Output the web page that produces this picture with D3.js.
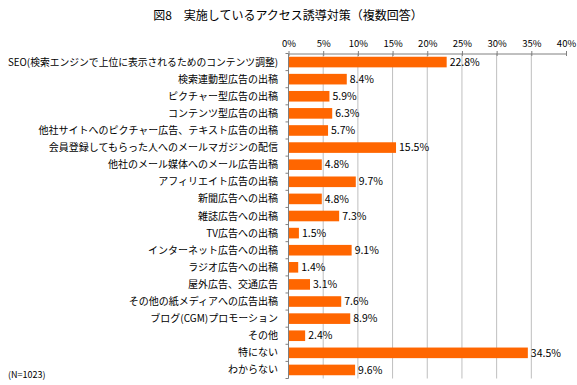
<!DOCTYPE html>
<html><head><meta charset="utf-8">
<script src="https://cdn.jsdelivr.net/npm/d3@7"></script>
<style>
body{margin:0;background:#fff;}
svg text{font-family:"Noto Sans CJK JP","Noto Sans",sans-serif;fill:#000;}
</style></head>
<body><svg id="c" width="577" height="385"></svg>
<script>
const title = "図8　実施しているアクセス誘導対策（複数回答）";
const categories = [
 "SEO(検索エンジンで上位に表示されるためのコンテンツ調整)",
 "検索連動型広告の出稿",
 "ピクチャー型広告の出稿",
 "コンテンツ型広告の出稿",
 "他社サイトへのピクチャー広告、テキスト広告の出稿",
 "会員登録してもらった人へのメールマガジンの配信",
 "他社のメール媒体へのメール広告出稿",
 "アフィリエイト広告の出稿",
 "新聞広告への出稿",
 "雑誌広告への出稿",
 "TV広告への出稿",
 "インターネット広告への出稿",
 "ラジオ広告への出稿",
 "屋外広告、交通広告",
 "その他の紙メディアへの広告出稿",
 "ブログ(CGM)プロモーション",
 "その他",
 "特にない",
 "わからない"
];
const values = [22.8,8.4,5.9,6.3,5.7,15.5,4.8,9.7,4.8,7.3,1.5,9.1,1.4,3.1,7.6,8.9,2.4,34.5,9.6];
const tickValues = [0,5,10,15,20,25,30,35,40];
const note = "(N=1023)";

const svg = d3.select("#c");
const x = d3.scaleLinear().domain([0,40]).range([288.5,566]);
const y = d3.scaleBand().domain(categories).range([53.5,378.5]).paddingInner(0.38).paddingOuter(0.19);

svg.append("text").attr("x",288).attr("y",20).attr("text-anchor","middle")
  .style("font-size","12px").text(title);

// gridlines
svg.append("g").selectAll("line").data(tickValues.slice(1,-1)).join("line")
  .attr("x1",d=>x(d)).attr("x2",d=>x(d)).attr("y1",53.5).attr("y2",378.5)
  .attr("stroke","#bfbfbf").attr("stroke-width",1);

// top axis
const gx = svg.append("g").attr("transform","translate(0,53.5)")
  .call(d3.axisTop(x).tickValues(tickValues).tickFormat(d=>d+"%").tickSize(0).tickPadding(7));
gx.select(".domain").attr("stroke","#808080");
gx.selectAll(".tick line").remove();
gx.selectAll(".tick").append("line").attr("y1",-2.5).attr("y2",2.5).attr("stroke","#808080");
gx.selectAll("text").style("font-size","9.5px").attr("font-family","Liberation Sans Narrow, Arial Narrow, Liberation Sans, sans-serif");

// bars
svg.append("g").selectAll("rect").data(values).join("rect")
  .attr("x",x(0)).attr("y",(d,i)=>y(categories[i]))
  .attr("width",d=>x(d)-x(0)).attr("height",y.bandwidth())
  .attr("fill","#ff6600");

// value labels
svg.append("g").selectAll("text").data(values).join("text")
  .attr("x",d=>x(d)+3).attr("y",(d,i)=>y(categories[i])+y.bandwidth()/2)
  .attr("dy","0.35em").style("font-size","10.5px")
  .attr("font-family","Liberation Sans Narrow, Arial Narrow, Liberation Sans, sans-serif")
  .text(d=>d.toFixed(1)+"%");

// left axis
svg.append("line").attr("x1",x(0)).attr("x2",x(0)).attr("y1",53.5).attr("y2",378.5).attr("stroke","#808080");
svg.append("g").selectAll("line").data(d3.range(categories.length+1)).join("line")
  .attr("x1",x(0)-3).attr("x2",x(0)).attr("y1",i=>53.5+i*(325/categories.length)).attr("y2",i=>53.5+i*(325/categories.length))
  .attr("stroke","#808080");

// category labels
svg.append("g").selectAll("text").data(categories).join("text")
  .attr("x",278).attr("y",d=>y(d)+y.bandwidth()/2).attr("dy","0.35em")
  .attr("text-anchor","end").style("font-size","10px").text(d=>d)
  .each(function(){
    const w = this.getComputedTextLength();
    if (w > 270) d3.select(this).attr("textLength",270).attr("lengthAdjust","spacingAndGlyphs");
  });

svg.append("text").attr("x",8).attr("y",378).style("font-size","9px").text(note);
</script></body></html>
